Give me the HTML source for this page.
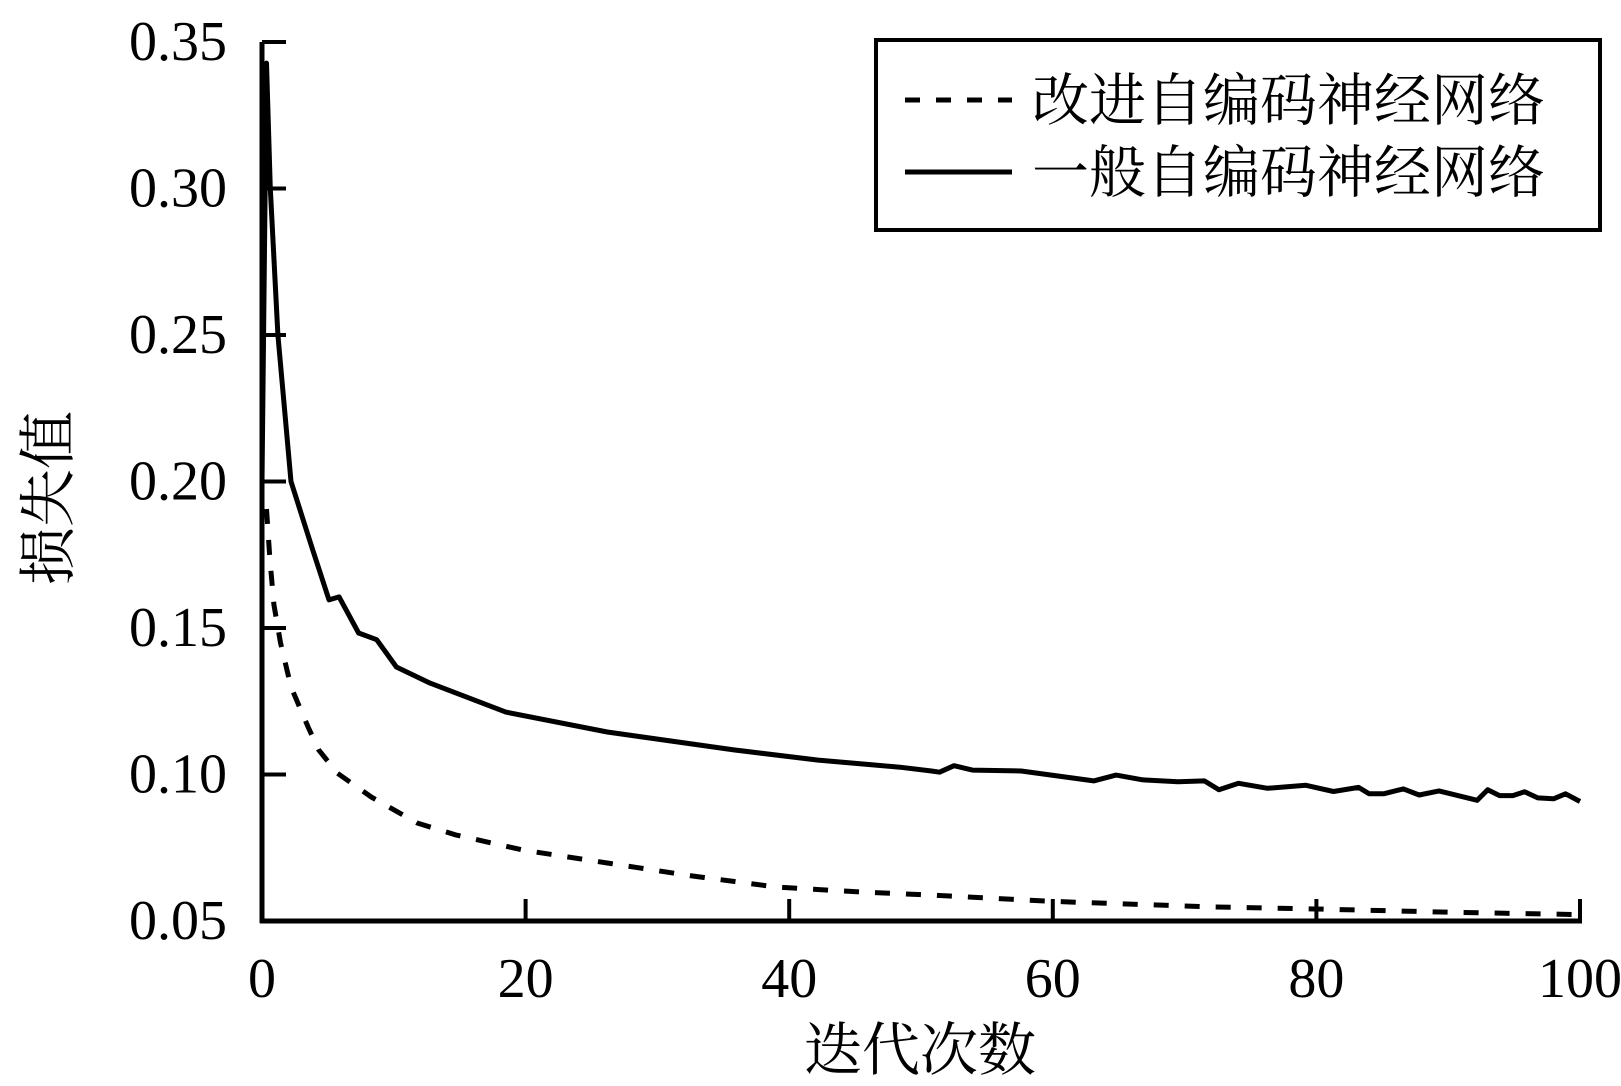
<!DOCTYPE html>
<html><head><meta charset="utf-8"><style>
html,body{margin:0;padding:0;background:#fff;}
svg{display:block;}
text{font-family:"Liberation Serif","Noto Serif CJK SC",serif;fill:#000;}
</style></head><body>
<svg id="chart" width="1621" height="1086" viewBox="0 0 1621 1086" xmlns="http://www.w3.org/2000/svg">
<g id="axes"></g>
<g id="series"></g>
<text x="43" y="498" font-size="58" text-anchor="middle" dominant-baseline="central" transform="rotate(-90 43 498)" style="font-family:'Noto Serif CJK SC',serif">损失值</text>
<text x="920" y="1070" font-size="58" text-anchor="middle" style="font-family:'Noto Serif CJK SC',serif">迭代次数</text>
<g>
<rect x="876" y="40" width="724" height="190" fill="#fff" stroke="#000" stroke-width="4"/>
<line x1="905" y1="100" x2="1012" y2="100" stroke="#000" stroke-width="5" stroke-dasharray="15 16"/>
<text x="1032" y="120" font-size="57" style="font-family:'Noto Serif CJK SC',serif">改进自编码神经网络</text>
<line x1="905" y1="172" x2="1012" y2="172" stroke="#000" stroke-width="5"/>
<text x="1032" y="192" font-size="57" style="font-family:'Noto Serif CJK SC',serif">一般自编码神经网络</text>
</g>
</svg>
<script>
const xTicks = [0, 20, 40, 60, 80, 100];
const xTickLabels = ["0", "20", "40", "60", "80", "100"];
const yTicks = [0.05, 0.10, 0.15, 0.20, 0.25, 0.30, 0.35];
const yTickLabels = ["0.05", "0.10", "0.15", "0.20", "0.25", "0.30", "0.35"];
const generalX = [0, 0.34, 0.63, 1.21, 2.2, 3.8, 5.08, 5.85, 7.33, 8.7, 10.2, 12.75, 18.5, 26.2, 35.8, 42.2, 48.4, 50.8, 51.4, 52.5, 53.9, 57.6, 63.1, 64.8, 66.8, 69.5, 71.5, 72.6, 74.1, 76.3, 79.2, 81.3, 83.2, 84.0, 85.1, 86.6, 87.8, 89.3, 92.2, 93.0, 93.9, 94.9, 95.8, 96.8, 98.0, 98.9, 100];
const generalY = [0.20, 0.3428, 0.300, 0.250, 0.200, 0.1773, 0.1596, 0.1606, 0.1483, 0.1460, 0.1367, 0.1312, 0.1213, 0.1145, 0.1084, 0.1049, 0.1025, 0.1012, 0.1008, 0.1030, 0.1015, 0.1012, 0.0978, 0.0998, 0.0982, 0.0975, 0.0978, 0.0948, 0.0970, 0.0953, 0.0963, 0.0942, 0.0956, 0.0934, 0.0934, 0.0951, 0.0930, 0.0944, 0.0912, 0.0948, 0.0928, 0.0928, 0.0941, 0.0920, 0.0917, 0.0934, 0.0908];
const improvedX = [0.34, 0.6, 0.9, 1.4, 2.2, 3.5, 4.3, 5.7, 8.3, 11.8, 14.7, 19.8, 26.2, 32.6, 39.0, 45.4, 50.5, 60, 72, 80, 90, 100];
const improvedY = [0.1906, 0.1735, 0.1580, 0.1450, 0.1299, 0.1162, 0.1084, 0.1005, 0.0923, 0.0834, 0.0794, 0.0742, 0.0698, 0.0654, 0.0616, 0.0599, 0.0589, 0.0567, 0.0548, 0.0541, 0.0530, 0.0522];

const X0 = 262, X1 = 1580, Y0 = 921, Y1 = 42;
function sx(v){ return X0 + (v - 0) / 100 * (X1 - X0); }
function sy(v){ return Y0 - (v - 0.05) / 0.30 * (Y0 - Y1); }
const NS = "http://www.w3.org/2000/svg";
const axes = document.getElementById("axes");
const series = document.getElementById("series");
function mk(tag, attrs, parent){
  const e = document.createElementNS(NS, tag);
  for (const k in attrs) e.setAttribute(k, attrs[k]);
  parent.appendChild(e);
  return e;
}
let e = mk("line", {x1:X0, y1:Y1, x2:X0, y2:Y0+2, stroke:"#000", "stroke-width":5}, axes);


e = mk("line", {x1:X0-2, y1:Y0, x2:X1+2, y2:Y0, stroke:"#000", "stroke-width":5}, axes);


yTicks.forEach((t, i) => {
  const y = sy(t);
  const tk = mk("line", {x1:X0, y1:y, x2:X0+24, y2:y, stroke:"#000", "stroke-width":4}, axes);
  
  
  const lb = mk("text", {x:227, y:y, "font-size":56, "text-anchor":"end", "dominant-baseline":"central"}, axes);
  lb.textContent = yTickLabels[i];
  
  
});
xTicks.forEach((t, i) => {
  const x = sx(t);
  if (t !== 0) {
    const tk = mk("line", {x1:x, y1:Y0, x2:x, y2:Y0-22, stroke:"#000", "stroke-width":4}, axes);
    
    
  }
  const lb = mk("text", {x:x, y:997, "font-size":56, "text-anchor":"middle"}, axes);
  lb.textContent = xTickLabels[i];
  
  
});
function pathD(xs, ys){ return xs.map((x, i) => (i ? "L" : "M") + sx(x).toFixed(1) + "," + sy(ys[i]).toFixed(1)).join(" "); }
const pg = mk("path", {d:pathD(generalX, generalY), fill:"none", stroke:"#000", "stroke-width":5, "stroke-linejoin":"round"}, series);


const pi = mk("path", {d:pathD(improvedX, improvedY), fill:"none", stroke:"#000", "stroke-width":5, "stroke-dasharray":"15 16"}, series);


</script>
</body></html>
